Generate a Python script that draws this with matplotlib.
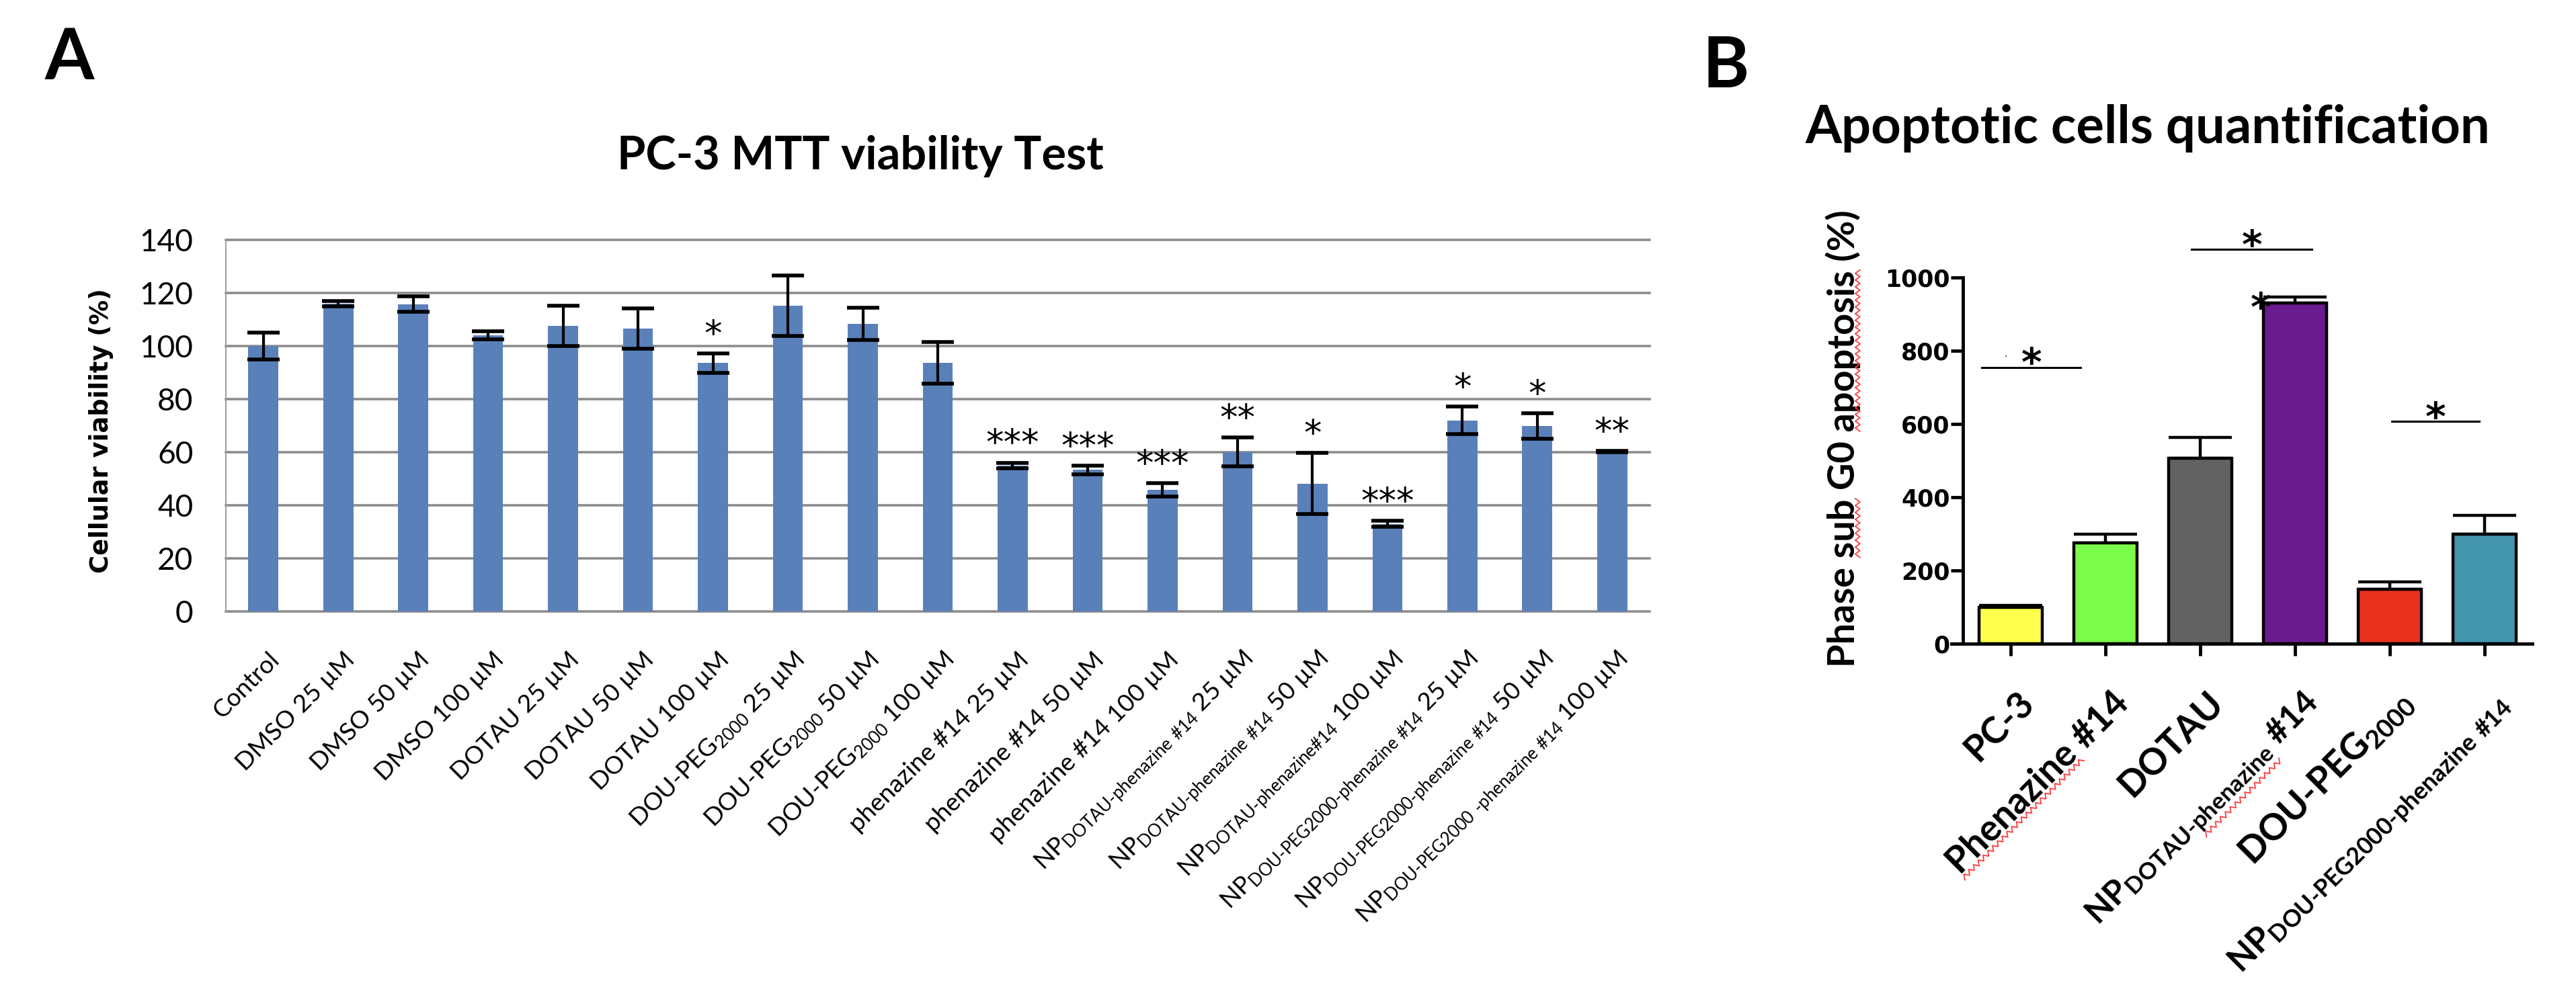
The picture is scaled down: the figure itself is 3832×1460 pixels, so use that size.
import numpy as np
import matplotlib
matplotlib.use('Agg')
import matplotlib.pyplot as plt
from matplotlib.lines import Line2D
from matplotlib.transforms import ScaledTranslation
from matplotlib.font_manager import FontProperties

plt.rcParams['mathtext.default'] = 'regular'

# ---- panel A data: PC-3 MTT viability
mtt_labels = [
    'Control', 'DMSO 25 µM', 'DMSO 50 µM', 'DMSO 100 µM',
    'DOTAU 25 µM', 'DOTAU 50 µM', 'DOTAU 100 µM',
    'DOU-PEG$_{2000}$ 25 µM', 'DOU-PEG$_{2000}$ 50 µM', 'DOU-PEG$_{2000}$ 100 µM',
    'phenazine #14 25 µM', 'phenazine #14 50 µM', 'phenazine #14 100 µM',
    'NP$_{DOTAU\u2010phenazine\\ \\#14}$ 25 µM',
    'NP$_{DOTAU\u2010phenazine\\ \\#14}$ 50 µM',
    'NP$_{DOTAU\u2010phenazine\\#14}$ 100 µM',
    'NP$_{DOU\u2010PEG2000\u2010phenazine\\ \\#14}$ 25 µM',
    'NP$_{DOU\u2010PEG2000\u2010phenazine\\ \\#14}$ 50 µM',
    'NP$_{DOU\u2010PEG2000\\ \u2010phenazine\\ \\#14}$ 100 µM',
]
mtt_values = [100, 116, 115.8, 104, 107.6, 106.5, 93.6, 115.3, 108.4, 93.6,
              54.9, 53.3, 45.9, 60.1, 48.2, 33.0, 72.0, 69.9, 60.2]
mtt_err = [5, 1, 3, 1.5, 7.6, 7.6, 3.6, 11.4, 6, 7.9,
           1.1, 1.6, 2.5, 5.4, 11.5, 1.1, 5.2, 4.8, 0.3]
mtt_sig = ['', '', '', '', '', '', '*', '', '', '',
           '***', '***', '***', '**', '*', '***', '*', '*', '**']

# ---- panel B data: apoptotic cells
apo_labels = ['PC-3', 'Phenazine #14', 'DOTAU',
              'NP$_{DOTAU\u2010phenazine}$ #14', 'DOU-PEG$_{2000}$',
              'NP$_{DOU\u2010PEG2000\u2010phenazine\\ \\#14}$']
apo_values = [100, 275, 507, 930, 149, 300]
apo_err = [5, 24, 56, 17, 19, 50]
apo_colors = ['#FFFF4D', '#7CFC4A', '#626262', '#6A1B8E', '#E8321E', '#4495AE']
# significance brackets: (x start, x end, height) in data units
apo_brackets = [(-0.30, 0.74, 755), (1.91, 3.18, 1077), (4.02, 4.94, 607)]

W, H = 3832, 1460
PX = 100 / 72  # pixels per point
fig = plt.figure(figsize=(W / 100, H / 100), dpi=100)
renderer = fig.canvas.get_renderer()


def text_w(s, size, family, weight='normal'):
    fp = FontProperties(family=family, weight=weight, size=size)
    return renderer.get_text_width_height_descent(s, fp, ismath='$' in s)[0]


def fit(s, target_px, family, weight='normal', extra_em=0.0):
    # font size (pt) that makes s about target_px wide
    return 100 * target_px / (text_w(s, 100, family, weight) + extra_em * 100 * PX)


def star(ax, x, y, s, size, weight='normal'):
    # centre the asterisk glyph on (x, y)
    ax.annotate(s, (x, y), xytext=(0, -0.59 * size), textcoords='offset points',
                ha='center', va='baseline', fontsize=size, fontweight=weight,
                family='DejaVu Sans', zorder=6, annotation_clip=False)


def squiggle(p0, p1, amp=3.5, step=5.0):
    # red spell-check wave between two pixel points (image coords, y down)
    p0, p1 = np.asarray(p0, float), np.asarray(p1, float)
    length = np.hypot(*(p1 - p0))
    n = max(int(length / step), 2)
    t = np.linspace(0, 1, n + 1)
    d = (p1 - p0) / length
    perp = np.array([-d[1], d[0]])
    off = amp * np.where(np.arange(n + 1) % 2 == 0, 1, -1)
    pts = p0 + np.outer(t, p1 - p0) + np.outer(off, perp)
    fig.add_artist(Line2D(pts[:, 0] / W, 1 - pts[:, 1] / H, color='#FF3B3B',
                          lw=1.3, transform=fig.transFigure))


# font sizes matched to the widths in the source figure
fsA_x = fit('DMSO 100 µM', 282, 'Lato', extra_em=0.72)
fsA_np1 = min(fsA_x, fit(mtt_labels[13], 478, 'Lato', extra_em=0.72))
fsA_np2 = min(fsA_x, fit(mtt_labels[18], 580, 'Lato', extra_em=0.72))
sizesA = [fsA_x] * 13 + [fsA_np1] * 3 + [fsA_np2] * 3
fsB_x = fit('Phenazine #14', 398, 'Lato', 'bold', extra_em=0.72)
sizesB = [fsB_x] * len(apo_labels)
sizesB[3] = min(fsB_x, fit(apo_labels[3], 502, 'Lato', 'bold', extra_em=0.72))
sizesB[5] = min(fsB_x, fit(apo_labels[5], 602, 'Lato', 'bold', extra_em=0.72))
fsA_title = fit('PC-3 MTT viability Test', 724, 'Lato', 'bold')
fsB_title = fit('Apoptotic cells quantification', 1018, 'Lato', 'bold')
fsA_ylab = fit('Cellular viability (%)', 423, 'DejaVu Sans', 'bold')
fsB_ylab = fit('Phase sub G0 apoptosis (%)', 680, 'Lato', 'bold')
fsA_tick = fit('100', 80, 'Lato')
fsB_tick = fit('1000', 97, 'DejaVu Sans', 'bold')

# ================= panel A =================
axA = fig.add_axes([336 / W, 1 - 910 / H, 2118 / W, 553 / H])
x = np.arange(len(mtt_values))
axA.bar(x, mtt_values, width=0.4, color='#5A80BA', zorder=3)
axA.errorbar(x, mtt_values, yerr=mtt_err, fmt='none', ecolor='black',
             elinewidth=3, capsize=17, capthick=4, zorder=4)
for xi, v, e, s in zip(x, mtt_values, mtt_err, mtt_sig):
    if s:
        star(axA, xi, v + e + 11, s, 38)

axA.set_xlim(-0.5, len(mtt_values) - 0.5)
axA.set_ylim(0, 140)
axA.set_yticks(np.arange(0, 141, 20))
axA.yaxis.grid(True, color='#8c8c8c', lw=2.6)
for gl in axA.get_ygridlines():
    gl.set_clip_on(False)
axA.set_axisbelow(True)
for side in ['top', 'right', 'bottom']:
    axA.spines[side].set_visible(False)
axA.spines['left'].set_color('#a0a0a0')
axA.spines['left'].set_linewidth(1.5)
capA = 0.72 * fsA_x * PX
padA = 965 + 0.707 * capA - 910
axA.tick_params(axis='y', length=0, pad=35, labelsize=fsA_tick)
axA.tick_params(axis='x', length=0, pad=padA / PX)
for lab in axA.get_yticklabels():
    lab.set_family('Lato')
axA.set_xticks(x)
axA.set_xticklabels(mtt_labels, rotation=45, ha='right', va='baseline',
                    rotation_mode='anchor', family='Lato')
shiftA = ScaledTranslation((7 + 0.707 * capA) / 100, 0, fig.dpi_scale_trans)
for lab, fs in zip(axA.get_xticklabels(), sizesA):
    lab.set_fontsize(fs)
    lab.set_transform(lab.get_transform() + shiftA)
axA.set_ylabel('Cellular viability (%)', fontsize=fsA_ylab, fontweight='bold',
               family='DejaVu Sans', va='center')
axA.yaxis.set_label_coords(-0.0878, 0.486)

fig.text(1280 / W, 1 - 233 / H, 'PC-3 MTT viability Test', ha='center',
         va='center', fontsize=fsA_title, fontweight='bold', family='Lato')
fig.text(103 / W, 1 - 88 / H, 'A', ha='center', va='center',
         fontsize=76, fontweight='bold', family='Lato')

# ================= panel B =================
axB = fig.add_axes([2920 / W, 1 - 958 / H, 847 / W, 545 / H])
xb = np.arange(len(apo_values))
axB.bar(xb, apo_values, width=0.667, color=apo_colors, edgecolor='black',
        linewidth=3.2, zorder=3)
axB.errorbar(xb, apo_values, yerr=[np.zeros(len(apo_err)), apo_err],
             fmt='none', ecolor='black', elinewidth=3.2, capsize=34,
             capthick=3.2, zorder=2)
for x0, x1, h in apo_brackets:
    axB.plot([x0, x1], [h, h], color='black', lw=2.2, clip_on=False)
    star(axB, (x0 + x1) / 2, h + 40, '*', 42, 'bold')
# star beside the NP-DOTAU bar
star(axB, 2.64, apo_values[3] + 15, '*', 42, 'bold')
axB.text(-0.05, 790, '.', ha='center', va='center', fontsize=10,
         family='DejaVu Sans')

axB.set_xlim(-0.5, len(apo_values) - 0.5)
axB.set_ylim(0, 1000)
axB.set_yticks(np.arange(0, 1001, 200))
for side in ['top', 'right']:
    axB.spines[side].set_visible(False)
for side in ['left', 'bottom']:
    axB.spines[side].set_linewidth(3.5)
axB.spines['bottom'].set_bounds(-0.62, len(apo_values) - 0.5)
capB = 0.72 * fsB_x * PX
tickB = 13 * PX
padB = 1021 + 0.707 * capB - 958 - tickB
dxB = 10 + 0.707 * capB
axB.tick_params(axis='both', width=3.5, length=13)
axB.tick_params(axis='y', pad=1, labelsize=fsB_tick)
axB.tick_params(axis='x', pad=padB / PX)
for lab in axB.get_yticklabels():
    lab.set_family('DejaVu Sans')
    lab.set_fontweight('bold')
axB.set_xticks(xb)
axB.set_xticklabels(apo_labels, rotation=45, ha='right', va='baseline',
                    rotation_mode='anchor', family='Lato', fontweight='bold')
shiftB = ScaledTranslation(dxB / 100, 0, fig.dpi_scale_trans)
for lab, fs in zip(axB.get_xticklabels(), sizesB):
    lab.set_fontsize(fs)
    lab.set_transform(lab.get_transform() + shiftB)
axB.set_ylabel('Phase sub G0 apoptosis (%)', fontsize=fsB_ylab,
               fontweight='bold', family='Lato', va='center')
axB.yaxis.set_label_coords(-0.211, 0.56)

fig.text(3195 / W, 1 - 191 / H, 'Apoptotic cells quantification',
         ha='center', va='center', fontsize=fsB_title, fontweight='bold',
         family='Lato')
fig.text(2567 / W, 1 - 100 / H, 'B', ha='center', va='center',
         fontsize=76, fontweight='bold', family='Lato')

# ---- red spell-check underlines, placed under the words of the labels
u = np.array([0.7071, -0.7071])      # along a 45 deg label (image coords)
down = np.array([0.7071, 0.7071])    # below its baseline
step_b = 847 / len(apo_values)
bx0 = 2920 + step_b / 2


def under(idx, pre, upto, drop):
    fs = sizesB[idx]
    a = np.array([bx0 + idx * step_b + dxB, 958 + tickB + padB])
    L = text_w(apo_labels[idx], fs, 'Lato', 'bold')
    w0 = text_w(pre, fs, 'Lato', 'bold') if pre else 0
    w1 = text_w(upto, fs, 'Lato', 'bold')
    off = drop * fs * PX * down
    squiggle(a - (L - w0) * u + off, a - (L - w1) * u + off)


under(1, '', 'Phenazine', 0.12)
under(3, 'NP$_{DOTAU\u2010}$', 'NP$_{DOTAU\u2010phenazine}$', 0.32)

# y-label of panel B: text runs upward from its lower end
ylab = 'Phase sub G0 apoptosis (%)'
Ly = text_w(ylab, fsB_ylab, 'Lato', 'bold')
ybot = 652 + Ly / 2
xu = 2741 + 0.40 * fsB_ylab * PX
for pre, upto in [('Phase ', 'Phase sub'),
                  ('Phase sub G0 ', 'Phase sub G0 apoptosis')]:
    w0 = text_w(pre, fsB_ylab, 'Lato', 'bold')
    w1 = text_w(upto, fsB_ylab, 'Lato', 'bold')
    squiggle((xu, ybot - w0), (xu, ybot - w1))

fig.savefig('out.png', dpi=100)
